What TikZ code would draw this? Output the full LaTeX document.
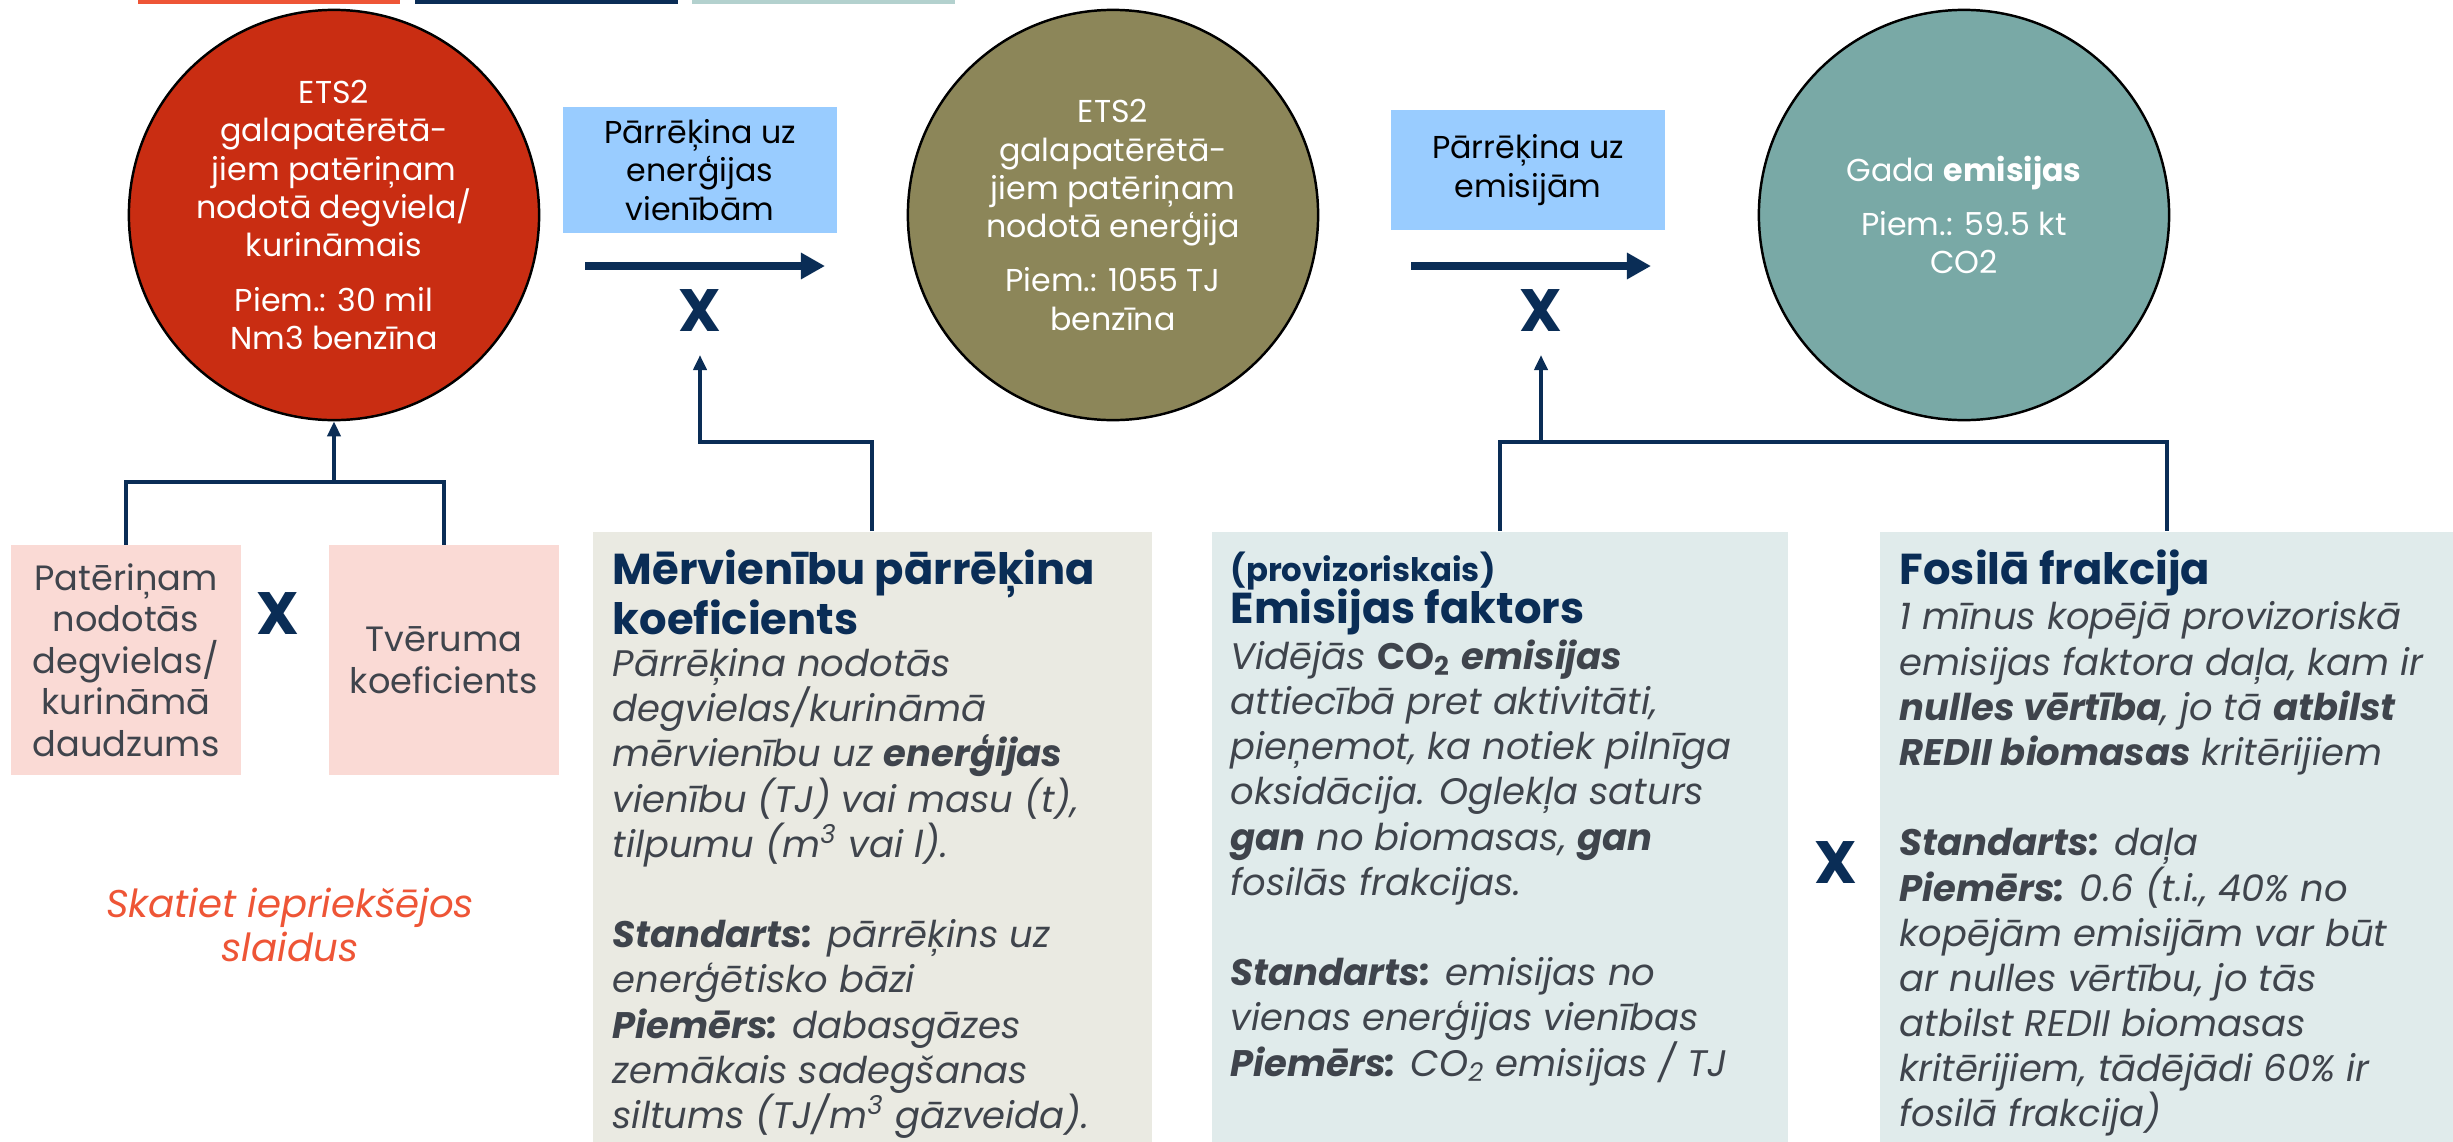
\documentclass[tikz,border=0pt]{standalone}
\usepackage{fontspec}
\setmainfont{Poppins}
\usetikzlibrary{arrows.meta,positioning,calc}
\definecolor{navy}{HTML}{0A2D56}
\definecolor{brick}{HTML}{C92D12}
\definecolor{olive}{HTML}{8C8659}
\definecolor{sea}{HTML}{79A9A6}
\definecolor{sky}{HTML}{99CCFF}
\definecolor{blush}{HTML}{FADAD5}
\definecolor{stone}{HTML}{EAEAE2}
\definecolor{mist}{HTML}{E0EBEB}
\definecolor{coral}{HTML}{EE5536}
\definecolor{slate}{HTML}{3F444C}
\definecolor{pale}{HTML}{B3D1CE}

\tikzset{
  stock/.style={circle,draw=black,line width=0.7pt,minimum size=4.1cm,inner sep=0pt,
                text=white,align=center,font=\fontsize{9}{10.9}\selectfont},
  unitbox/.style={fill=sky,minimum width=2.73cm,minimum height=1.2cm,align=center,
                  font=\fontsize{9}{11}\selectfont},
  inbox/.style={fill=blush,minimum width=2.3cm,minimum height=2.29cm,align=center,
                text=slate,font=\fontsize{10}{11.8}\selectfont},
  panel/.style={anchor=north west,inner sep=0pt,minimum height=6.11cm},
  headtext/.style={inner sep=0pt,align=left,text=navy,font=\fontsize{12.3}{14.3}\selectfont\bfseries},
  tagtext/.style={inner sep=0pt,align=left,text=navy,font=\fontsize{9.2}{11}\selectfont\bfseries},
  paneltext/.style={inner sep=0pt,align=left,text=slate,font=\fontsize{10.5}{12.85}\selectfont\itshape},
  timesmark/.style={text=navy,font=\fontsize{17}{17}\selectfont\bfseries,inner sep=0pt},
  flow/.style={navy,line width=2pt,-{Triangle[length=0.24cm,width=0.25cm]}},
  feed/.style={navy,line width=1.2pt,-{Triangle[length=0.15cm,width=0.13cm]}},
  link/.style={navy,line width=1.2pt},
}

\begin{document}
\begin{tikzpicture}[x=0.01cm,y=-0.01cm]
  \useasboundingbox (0,0) rectangle (2453,1142);

  % colour tabs along the top edge
  \fill[coral] (138,0) rectangle (400,4);
  \fill[navy] (415,0) rectangle (678,4);
  \fill[pale] (692,0) rectangle (955,4);

  % the three quantities
  \node[stock,fill=brick] (fuel) at (334,215)
    {ETS2\\galapatērētā-\\jiem patēriņam\\nodotā degviela/\\kurināmais\\[4.5pt]Piem.: 30 mil\\Nm3 benzīna};
  \node[stock,fill=olive] (energy) at (1113,215)
    {ETS2\\galapatērētā-\\jiem patēriņam\\nodotā enerģija\\[4.5pt]Piem.: 1055 TJ\\benzīna};
  \node[stock,fill=sea] (annual) at (1964,215)
    {Gada \textbf{emisijas}\\[4.5pt]Piem.: 59.5 kt\\CO2};

  % conversion steps
  \node[unitbox] (toenergy) at (700,170) {Pārrēķina uz\\enerģijas\\vienībām};
  \node[unitbox] (toemis) at (1528,170) {Pārrēķina uz\\emisijām};
  \coordinate (f1a) at (585,266);
  \coordinate (f1b) at (825,266);
  \coordinate (f2a) at (1411,266);
  \coordinate (f2b) at (1651,266);
  \draw[flow] (f1a) -- (f1b);
  \draw[flow] (f2a) -- (f2b);
  \node[timesmark] (times1) at (700,311) {X};
  \node[timesmark] (times2) at (1541,311) {X};

  % activity data
  \node[inbox] (amount) at (126,660) {Patēriņam\\nodotās\\degvielas/\\kurināmā\\daudzums};
  \node[inbox] (capture) at (444,660) {Tvēruma\\koeficients};
  \node[timesmark] (times3) at (278,614) {X};
  \node[text=coral,align=center,font=\fontsize{11}{12.6}\selectfont\itshape] (note) at (290,925)
    {Skatiet iepriekšējos\\slaidus};

  % factor panels
  \node[panel,fill=stone,minimum width=5.59cm] (convbox) at (592,531) {};
  \node[panel,fill=mist,minimum width=5.76cm] (efbox) at (1211,531) {};
  \node[panel,fill=mist,minimum width=5.74cm] (fossilbox) at (1879,531) {};
  \node[timesmark] (times4) at (1836,863) {X};

  \node[headtext,below right=0.18cm and 0.2cm of convbox.north west] (convhead)
    {Mērvienību pārrēķina\\koeficients};
  \node[paneltext,below right=0.12cm and 0cm of convhead.south west] (convtext)
    {Pārrēķina nodotās\\
     degvielas/kurināmā\\
     mērvienību uz \textbf{enerģijas}\\
     vienību (TJ) vai masu (t),\\
     tilpumu (m\textsuperscript{3} vai l).\\[12.85pt]
     \textbf{Standarts:} pārrēķins uz\\
     enerģētisko bāzi\\
     \textbf{Piemērs:} dabasgāzes\\
     zemākais sadegšanas\\
     siltums (TJ/m\textsuperscript{3} gāzveida).};

  \node[tagtext,below right=0.2cm and 0.19cm of efbox.north west] (eftag) {(provizoriskais)};
  \node[headtext,below right=-0.02cm and 0cm of eftag.south west] (efhead) {Emisijas faktors};
  \node[paneltext,below right=0.03cm and 0cm of efhead.south west] (eftext)
    {Vidējās \textbf{\upshape CO\textsubscript{2}} \textbf{emisijas}\\
     attiecībā pret aktivitāti,\\
     pieņemot, ka notiek pilnīga\\
     oksidācija. Oglekļa saturs\\
     \textbf{gan} no biomasas, \textbf{gan}\\
     fosilās frakcijas.\\[12.85pt]
     \textbf{Standarts:} emisijas no\\
     vienas enerģijas vienības\\
     \textbf{Piemērs:} CO\textsubscript{2} emisijas / TJ};

  \node[headtext,below right=0.18cm and 0.2cm of fossilbox.north west] (fossilhead) {Fosilā frakcija};
  \node[paneltext,below right=0.045cm and 0cm of fossilhead.south west] (fossiltext)
    {1 mīnus kopējā provizoriskā\\
     emisijas faktora daļa, kam ir\\
     \textbf{nulles vērtība}, jo tā \textbf{atbilst}\\
     \textbf{REDII biomasas} kritērijiem\\[12.85pt]
     \textbf{Standarts:} daļa\\
     \textbf{Piemērs:} 0.6 (t.i., 40\% no\\
     kopējām emisijām var būt\\
     ar nulles vērtību, jo tās\\
     atbilst REDII biomasas\\
     kritērijiem, tādējādi 60\% ir\\
     fosilā frakcija)};

  % connectors
  \coordinate (join0) at (334,482);
  \coordinate (join1) at (700,442);
  \coordinate (join2) at (1541,442);
  \coordinate (tip1) at (700,355);
  \coordinate (tip2) at (1541,355);
  \draw[link] (amount.north) |- (join0) -| (capture.north);
  \draw[feed] (join0) -- (fuel.south);
  \draw[feed] (convbox.north) |- (join1) -- (tip1);
  \draw[link] (efbox.north) |- (join2) -| (fossilbox.north);
  \draw[feed] (join2) -- (tip2);
\end{tikzpicture}
\end{document}
